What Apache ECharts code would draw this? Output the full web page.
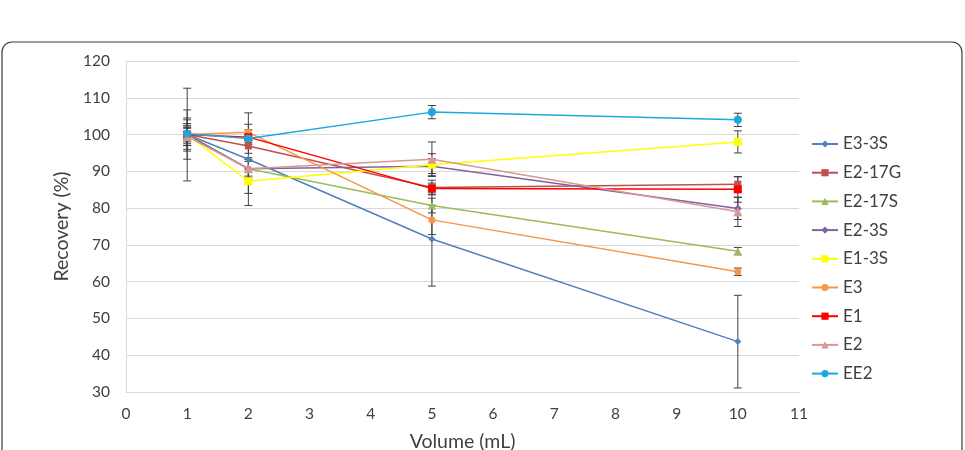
<!DOCTYPE html>
<html>
<head>
<meta charset="utf-8">
<script src="https://cdn.jsdelivr.net/npm/echarts@6/dist/echarts.min.js"></script>
<style>
html,body{margin:0;padding:0;background:#fff;}
#c{width:965px;height:450px;}
</style>
</head>
<body>
<div id="c"></div>
<script>
var volumes = [1, 2, 5, 10];
var seriesNames = ['E3-3S','E2-17G','E2-17S','E2-3S','E1-3S','E3','E1','E2','EE2'];
var E3_3S  = [100.0, 93.3, 71.6, 43.7];
var E2_17G = [100.0, 96.9, 85.6, 86.5];
var E2_17S = [100.0, 90.7, 80.7, 68.3];
var E2_3S  = [100.0, 90.7, 91.4, 79.9];
var E1_3S  = [100.0, 87.3, 91.8, 98.0];
var E3     = [100.0, 100.6, 76.8, 62.7];
var E1     = [100.0, 99.3, 85.3, 85.1];
var E2     = [99.5, 90.7, 93.3, 79.0];
var EE2    = [100.2, 98.9, 106.1, 104.0];

var E3_3S_err  = [12.6, 12.6, 12.8, 12.6];
var E2_17G_err = [4.0, 2.0, 2.0, 2.0];
var E2_17S_err = [3.0, 2.5, 2.0, 1.0];
var E2_3S_err  = [2.5, 3.0, 2.0, 3.0];
var E1_3S_err  = [6.7, 3.3, 3.0, 3.0];
var E3_err     = [2.0, 2.2, 4.0, 1.0];
var E1_err     = [4.5, 2.0, 1.5, 3.5];
var E2_err     = [2.5, 2.0, 4.7, 4.0];
var EE2_err    = [1.5, 1.0, 1.8, 1.8];

var yTicks = [30, 120, 10];
var xTicks = [0, 11, 1];

var values = [E3_3S, E2_17G, E2_17S, E2_3S, E1_3S, E3, E1, E2, EE2];
var errors = [E3_3S_err, E2_17G_err, E2_17S_err, E2_3S_err, E1_3S_err, E3_err, E1_err, E2_err, EE2_err];
var colors = ['#4F81BD','#C0504D','#9BBB59','#8064A2','#FFFF00','#F79646','#FF0000','#D99694','#1CA8DD'];
var symbols = ['diamond','rect','triangle','diamond','rect','circle','rect','triangle','circle'];
var sizes = [7,7,8,8,8,7,8,9,8];

var FONT = 'Lato, "Open Sans", sans-serif';

var series = [];
seriesNames.forEach(function(name, i){
  var eb = volumes.map(function(v, j){ return [v, values[i][j] - errors[i][j], values[i][j] + errors[i][j]]; });
  series.push({
    type: 'custom',
    name: name + ' err',
    data: eb,
    z: 1,
    silent: true,
    renderItem: function(params, api){
      var x = api.value(0);
      var lo = api.coord([x, api.value(1)]);
      var hi = api.coord([x, api.value(2)]);
      var w = 4;
      var st = {stroke: '#404040', lineWidth: 1};
      return {type: 'group', children: [
        {type: 'line', shape: {x1: lo[0], y1: lo[1], x2: hi[0], y2: hi[1]}, style: st},
        {type: 'line', shape: {x1: lo[0]-w, y1: lo[1], x2: lo[0]+w, y2: lo[1]}, style: st},
        {type: 'line', shape: {x1: hi[0]-w, y1: hi[1], x2: hi[0]+w, y2: hi[1]}, style: st}
      ]};
    }
  });
});
seriesNames.forEach(function(name, i){
  series.push({
    type: 'line',
    name: name,
    data: volumes.map(function(v, j){ return [v, values[i][j]]; }),
    z: 3 + i,
    symbol: symbols[i],
    symbolSize: sizes[i],
    showAllSymbol: true,
    lineStyle: {color: colors[i], width: 1.5},
    itemStyle: {color: colors[i]},
    emphasis: {disabled: true}
  });
});

var chart = echarts.init(document.getElementById('c'), null, {renderer: 'canvas'});
chart.setOption({
  animation: false,
  backgroundColor: '#ffffff',
  graphic: [{
    type: 'rect',
    shape: {x: 2, y: 42, width: 960, height: 430, r: 10},
    style: {fill: 'none', stroke: '#3a3a3a', lineWidth: 1.2},
    z: -1
  }],
  grid: {left: 126, right: 166, top: 61, bottom: 58, containLabel: false, outerBoundsMode: 'none'},
  xAxis: {
    type: 'value', min: xTicks[0], max: xTicks[1], interval: xTicks[2],
    name: 'Volume (mL)', nameLocation: 'middle', nameGap: 40,
    nameTextStyle: {fontFamily: FONT, fontSize: 19.5, color: '#404040'},
    axisLine: {show: true, lineStyle: {color: '#D9D9D9'}},
    axisTick: {show: false},
    splitLine: {show: false},
    axisLabel: {fontFamily: FONT, fontSize: 15.5, color: '#404040', margin: 14}
  },
  yAxis: {
    type: 'value', min: yTicks[0], max: yTicks[1], interval: yTicks[2],
    name: 'Recovery (%)', nameLocation: 'middle', nameGap: 47,
    nameTextStyle: {fontFamily: FONT, fontSize: 19.5, color: '#404040'},
    axisLine: {show: true, lineStyle: {color: '#D9D9D9'}},
    axisTick: {show: false},
    splitLine: {show: true, lineStyle: {color: '#D9D9D9', width: 1}},
    axisLabel: {fontFamily: FONT, fontSize: 15.5, color: '#404040', margin: 16}
  },
  legend: {
    data: seriesNames,
    orient: 'vertical',
    left: 806, top: 129,
    itemWidth: 26, itemHeight: 9,
    itemGap: 8.7,
    textStyle: {fontFamily: FONT, fontSize: 17, color: '#404040', lineHeight: 20},
    selectedMode: false
  },
  series: series
});
</script>
</body>
</html>
